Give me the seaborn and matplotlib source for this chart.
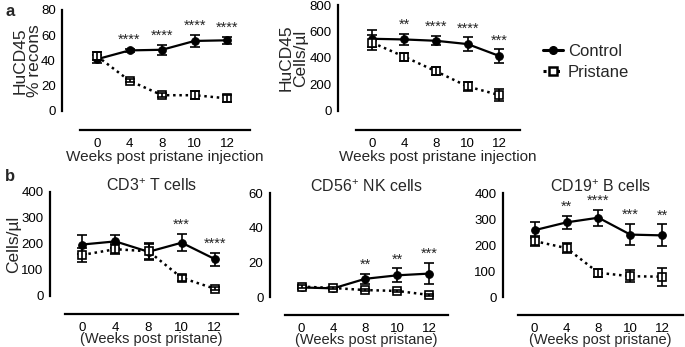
import numpy as np
import pandas as pd
import matplotlib
matplotlib.use("Agg")
import matplotlib.pyplot as plt
import seaborn as sns
from matplotlib.lines import Line2D

sns.set_style("white")
plt.rcParams['font.family'] = ['Liberation Sans', 'DejaVu Sans']
plt.rcParams['mathtext.fontset'] = 'custom'
plt.rcParams['mathtext.rm'] = 'Liberation Sans'

weeks = ["0", "4", "8", "10", "12"]

# Panel a1: HuCD45 % recons
a1_ctrl = [41, 48, 48.5, 55.5, 56]
a1_ctrl_err = [3, 1.5, 4, 5, 3]
a1_pris = [43.5, 24, 12.5, 12.5, 10]
a1_pris_err = [3, 1, 1.5, 3, 3]
a1_stars = ["", "****", "****", "****", "****"]

# Panel a2: HuCD45 cells/ul
a2_ctrl = [545, 540, 530, 505, 415]
a2_ctrl_err = [65, 40, 35, 50, 50]
a2_pris = [515, 410, 300, 185, 120]
a2_pris_err = [55, 30, 30, 35, 45]
a2_stars = ["", "**", "****", "****", "***"]

# Panel b1: CD3+ T cells
b1_ctrl = [198, 210, 170, 205, 142]
b1_ctrl_err = [37, 25, 30, 33, 25]
b1_pris = [158, 180, 172, 70, 28]
b1_pris_err = [28, 20, 30, 12, 5]
b1_stars = ["", "", "", "***", "****"]

# Panel b2: CD56+ NK cells
b2_ctrl = [5.5, 5, 10.5, 12.5, 13.5]
b2_ctrl_err = [1, 0.7, 3, 4, 6]
b2_pris = [6, 5.2, 4, 3.5, 1.2]
b2_pris_err = [1, 0.5, 0.7, 0.8, 0.8]
b2_stars = ["", "", "**", "**", "***"]

# Panel b3: CD19+ B cells
b3_ctrl = [257, 287, 305, 240, 237]
b3_ctrl_err = [30, 25, 30, 40, 42]
b3_pris = [215, 188, 93, 80, 78]
b3_pris_err = [20, 18, 15, 22, 35]
b3_stars = ["", "**", "****", "***", "**"]

W, H = 685, 347
fig = plt.figure(figsize=(W / 100, H / 100), dpi=100)


def px_axes(x0, x1, ytop, ybot):
    return fig.add_axes([x0 / W, (H - ybot) / H, (x1 - x0) / W, (ybot - ytop) / H])


def draw(ax, ctrl, cerr, pris, perr, stars, ymax, ystep, xright, left_out, bot_out,
         xlabel, ylabel, title=None, fs_tick=9.5, fs_xlabel=11, xlabelpad=0,
         ylabelpad=0):
    x = np.arange(len(weeks))
    df = pd.DataFrame({"x": np.concatenate([x, x]),
                       "y": np.concatenate([ctrl, pris]),
                       "group": ["Control"] * len(x) + ["Pristane"] * len(x)})
    # Control
    sns.lineplot(data=df[df.group == "Control"], x="x", y="y", ax=ax, color="black",
                 lw=1.6, marker="o", markersize=5.5, markeredgecolor="black",
                 markerfacecolor="black", clip_on=False, zorder=3)
    ax.errorbar(x, ctrl, yerr=cerr, fmt="none", ecolor="black", elinewidth=1.2,
                capsize=3.5, capthick=1.2, zorder=3, clip_on=False)
    # Pristane
    sns.lineplot(data=df[df.group == "Pristane"], x="x", y="y", ax=ax, color="black",
                 lw=1.8, linestyle=(0, (1, 1.5)), marker="s", markersize=6,
                 markeredgecolor="black", markerfacecolor="white",
                 markeredgewidth=1.2, clip_on=False, zorder=4)
    ax.errorbar(x, pris, yerr=perr, fmt="none", ecolor="black", elinewidth=1.2,
                capsize=3.5, capthick=1.2, zorder=5, clip_on=False)
    for xi, c, e, s in zip(x, ctrl, cerr, stars):
        if s:
            ax.annotate(s, (xi, c + e), xytext=(0, 1.5), textcoords="offset points",
                        ha="center", va="bottom", fontsize=10.5)
    ax.set_xlim(-0.52, xright)
    ax.set_ylim(0, ymax)
    ax.set_yticks(np.arange(0, ymax + ystep / 2, ystep))
    ax.set_xticks(x)
    ax.set_xticklabels(weeks)
    for sp in ["top", "right"]:
        ax.spines[sp].set_visible(False)
    ax.spines["left"].set_position(("outward", left_out))
    ax.spines["bottom"].set_position(("outward", bot_out))
    ax.spines["left"].set_linewidth(1.6)
    ax.spines["bottom"].set_linewidth(1.6)
    ax.spines["left"].set_color("black")
    ax.spines["bottom"].set_color("black")
    ax.tick_params(axis="both", direction="out", length=3.5, width=1.4,
                   colors="black", labelsize=fs_tick, pad=2)
    ax.tick_params(axis="y", pad=1)
    ax.set_xlabel(xlabel, fontsize=fs_xlabel, labelpad=xlabelpad)
    ax.set_ylabel(ylabel, fontsize=12.5, labelpad=ylabelpad, linespacing=1.0)
    if title:
        ax.set_title(title, fontsize=11.5, pad=1)
    ax.grid(False)
    ax.set_facecolor("none")


ax1 = px_axes(80, 250, 10, 111)
draw(ax1, a1_ctrl, a1_ctrl_err, a1_pris, a1_pris_err, a1_stars, 80, 20, 4.7, 13, 14,
     "Weeks post pristane injection", "HuCD45\n% recons", ylabelpad=-1)

ax2 = px_axes(356, 520, 5, 111)
draw(ax2, a2_ctrl, a2_ctrl_err, a2_pris, a2_pris_err, a2_stars, 800, 200, 4.65, 13, 14,
     "Weeks post pristane injection", "HuCD45\nCells/µl", ylabelpad=1)

ax3 = px_axes(65, 238, 192, 296)
draw(ax3, b1_ctrl, b1_ctrl_err, b1_pris, b1_pris_err, b1_stars, 400, 100, 4.7, 11, 13,
     "(Weeks post pristane)", "Cells/µl", r"CD3$^{\mathregular{+}}$ T cells",
     fs_xlabel=10.5, xlabelpad=-1, ylabelpad=0)

ax4 = px_axes(285, 448, 193, 297)
draw(ax4, b2_ctrl, b2_ctrl_err, b2_pris, b2_pris_err, b2_stars, 60, 20, 4.6, 11, 13,
     "(Weeks post pristane)", "", r"CD56$^{\mathregular{+}}$ NK cells",
     fs_xlabel=10.5, xlabelpad=-1)

ax5 = px_axes(518, 683, 193, 297)
draw(ax5, b3_ctrl, b3_ctrl_err, b3_pris, b3_pris_err, b3_stars, 400, 100, 4.65, 11, 13,
     "(Weeks post pristane)", "", r"CD19$^{\mathregular{+}}$ B cells",
     fs_xlabel=10.5, xlabelpad=-1)

handles = [
    Line2D([], [], color="black", lw=2.2, marker="o", markersize=5.5),
    Line2D([], [], color="black", lw=2.2, linestyle=(0, (1, 1.2)), marker="s",
           markersize=6, markerfacecolor="white", markeredgewidth=1.8),
]
fig.legend(handles, ["Control", "Pristane"], loc="upper left",
           bbox_to_anchor=(528 / W, 1 - 29 / H), frameon=False, fontsize=12,
           handlelength=1.2, handletextpad=0.3, labelspacing=0.35)

fig.text(5 / W, 1 - 16 / H, "a", fontsize=12, fontweight="bold", va="baseline")
fig.text(5 / W, 1 - 181 / H, "b", fontsize=12, fontweight="bold", va="baseline")

fig.savefig("out.png", dpi=100)
